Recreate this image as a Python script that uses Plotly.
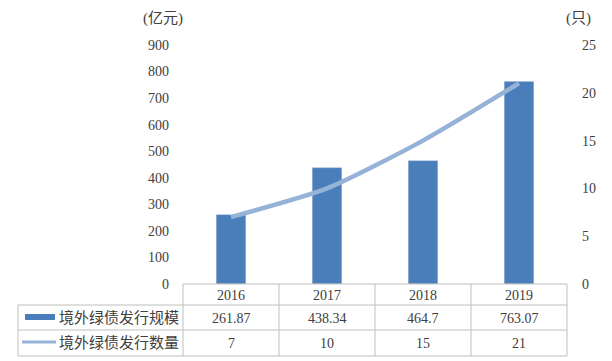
import plotly.graph_objects as go

years = ["2016", "2017", "2018", "2019"]
scale = [261.87, 438.34, 464.7, 763.07]
count = [7, 10, 15, 21]
scale_labels = ["261.87", "438.34", "464.7", "763.07"]
count_labels = ["7", "10", "15", "21"]
name_scale = "境外绿债发行规模"
name_count = "境外绿债发行数量"
unit_left = "(亿元)"
unit_right = "(只)"

W, H = 612, 361
L, R, T, B = 183, 45, 45, 77
pw, ph = W - L - R, H - T - B

def px(xp):
    return (xp - L) / pw

def py(yp):
    return (H - B - yp) / ph

FONT = "'Liberation Serif', 'Noto Sans CJK SC', serif"
TXT = "#404040"
BORDER = "#BFBFBF"
BAR = "#4A7EBB"
LINE = "#95B3D7"

fig = go.Figure()
fig.add_trace(go.Bar(x=years, y=scale, marker_color=BAR, width=0.31, name=name_scale))
fig.add_trace(go.Scatter(x=years, y=count, yaxis="y2", mode="lines",
                         line=dict(color=LINE, width=4.5, shape="spline", smoothing=0.6),
                         name=name_count))

shapes = []
col_edges = [183 + i * 96 for i in range(5)]
row_y = [284, 305, 330, 356]
left_x = 18
shapes.append(dict(type="line", xref="paper", yref="paper", x0=px(col_edges[0]), x1=px(col_edges[-1]),
                   y0=py(row_y[0]), y1=py(row_y[0]), line=dict(color=BORDER, width=1)))
for yy in row_y[1:]:
    shapes.append(dict(type="line", xref="paper", yref="paper", x0=px(left_x), x1=px(col_edges[-1]),
                       y0=py(yy), y1=py(yy), line=dict(color=BORDER, width=1)))
for xx in col_edges:
    shapes.append(dict(type="line", xref="paper", yref="paper", x0=px(xx), x1=px(xx),
                       y0=py(row_y[0]), y1=py(row_y[-1]), line=dict(color=BORDER, width=1)))
shapes.append(dict(type="line", xref="paper", yref="paper", x0=px(left_x), x1=px(left_x),
                   y0=py(row_y[1]), y1=py(row_y[-1]), line=dict(color=BORDER, width=1)))
shapes.append(dict(type="line", xref="paper", yref="paper", x0=px(25), x1=px(55),
                   y0=py(317), y1=py(317), line=dict(color=BAR, width=6)))
shapes.append(dict(type="line", xref="paper", yref="paper", x0=px(22), x1=px(56),
                   y0=py(342), y1=py(342), line=dict(color=LINE, width=3)))

ann = []
def add(x, y, text, xa="center", size=14):
    ann.append(dict(x=px(x), y=py(y), xref="paper", yref="paper", text=text, showarrow=False,
                    xanchor=xa, yanchor="middle", font=dict(family=FONT, size=size, color=TXT)))

for i, yr in enumerate(years):
    cx = (col_edges[i] + col_edges[i + 1]) / 2
    add(cx, 295, yr)
    add(cx, 318, scale_labels[i])
    add(cx, 343, count_labels[i])
add(181, 317, name_scale, xa="right", size=15)
add(181, 342, name_count, xa="right", size=15)
add(163, 18, unit_left, size=15)
add(578, 18, unit_right, size=15)

fig.update_layout(
    width=W, height=H,
    margin=dict(l=L, r=R, t=T, b=B, pad=0, autoexpand=False),
    paper_bgcolor="white", plot_bgcolor="white",
    showlegend=False,
    font=dict(family=FONT, size=14, color=TXT),
    xaxis=dict(showticklabels=False, showgrid=False, zeroline=False, showline=False, ticks=""),
    yaxis=dict(range=[0, 900], dtick=100, showgrid=False, zeroline=False, showline=False,
               ticks="", ticklabelstandoff=13, tickfont=dict(family=FONT, size=14, color=TXT)),
    yaxis2=dict(range=[0, 25], dtick=5, overlaying="y", side="right", showgrid=False,
                zeroline=False, showline=False, ticks="", ticklabelstandoff=14,
                tickfont=dict(family=FONT, size=14, color=TXT)),
    shapes=shapes, annotations=ann,
)

fig.write_html("out.html", config={"displayModeBar": False},
               post_script="document.body.style.margin='0';document.body.style.padding='0';")
